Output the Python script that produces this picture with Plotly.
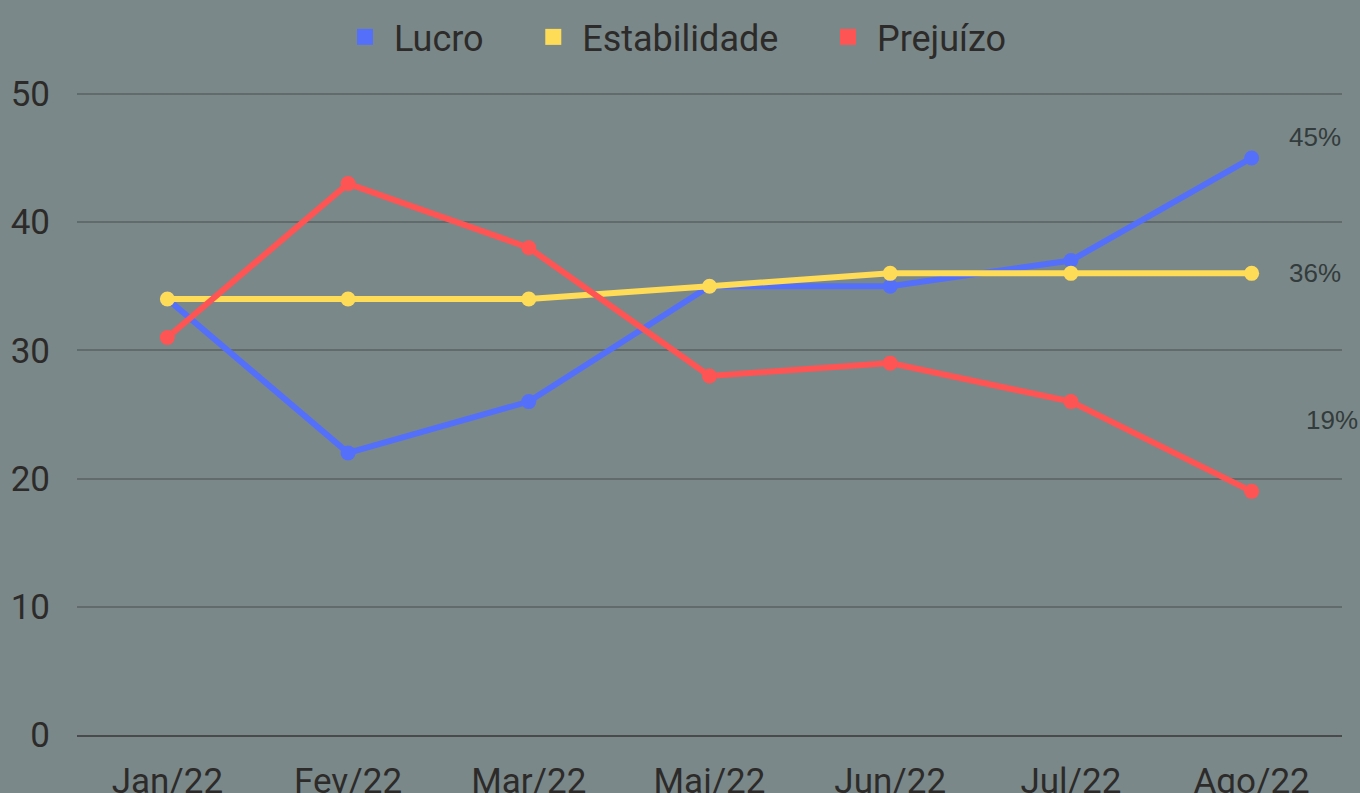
import plotly.graph_objects as go

months = ["Jan/22", "Fev/22", "Mar/22", "Mai/22", "Jun/22", "Jul/22", "Ago/22"]
lucro = [34, 22, 26, 35, 35, 37, 45]
estabilidade = [34, 34, 34, 35, 36, 36, 36]
prejuizo = [31, 43, 38, 28, 29, 26, 19]
series_names = ["Lucro", "Estabilidade", "Prejuízo"]
colors = ["#5470FB", "#FFDC57", "#FF5454"]
end_labels = ["45%", "36%", "19%"]

BG = "#7B8889"
TXT = "#2D2B29"
FONT = "Roboto"
NB = "\u00a0"

fig = go.Figure()
for name, vals, col in zip(series_names, [lucro, estabilidade, prejuizo], colors):
    fig.add_trace(go.Scatter(
        x=months, y=vals, mode="lines+markers", name=name, showlegend=False,
        line=dict(color=col, width=6), marker=dict(color=col, size=15),
        cliponaxis=False,
    ))
# legend-only square markers
for i, (name, col) in enumerate(zip(series_names, colors)):
    label = NB + name + (NB * 5 if i < len(series_names) - 1 else "")
    fig.add_trace(go.Scatter(
        x=[None], y=[None], mode="markers", name=label,
        marker=dict(color=col, size=17, symbol="square"),
    ))

shifts = [(63, 21), (63, 0), (80, 71)]
for lab, vals, (dx, dy) in zip(end_labels, [lucro, estabilidade, prejuizo], shifts):
    fig.add_annotation(
        x=months[-1], y=vals[-1], text=lab, showarrow=False,
        xshift=dx, yshift=dy,
        font=dict(family="Liberation Sans, Arial", size=26, color="#333C3C"),
    )

fig.update_layout(
    width=1360, height=793,
    paper_bgcolor=BG, plot_bgcolor=BG,
    margin=dict(l=77, r=18, t=90, b=58, autoexpand=False),
    font=dict(family=FONT, color=TXT, size=35),
    legend=dict(
        orientation="h", x=0.4755, xanchor="center", y=1.0822, yanchor="middle",
        font=dict(family=FONT, size=36, color=TXT),
        itemwidth=30, bgcolor="rgba(0,0,0,0)",
    ),
    showlegend=True,
    xaxis=dict(
        type="category", range=[-0.5, 6.5], showgrid=False, zeroline=False,
        showline=True, linecolor="#4A4A4A", linewidth=2,
        tickfont=dict(family=FONT, size=35, color=TXT),
        ticks="outside", ticklen=14, tickcolor="rgba(0,0,0,0)",
    ),
    yaxis=dict(
        range=[0, 50.3], tickvals=[0, 10, 20, 30, 40, 50], showgrid=True,
        gridcolor="#626B6B", gridwidth=1.5,
        zeroline=False, showline=False,
        tickfont=dict(family=FONT, size=35, color=TXT),
        ticks="outside", ticklen=19, tickcolor="rgba(0,0,0,0)",
    ),
)

fig.write_html(
    "out.html",
    config={"displayModeBar": False},
    post_script="document.body.style.margin='0';document.body.style.padding='0';",
)
